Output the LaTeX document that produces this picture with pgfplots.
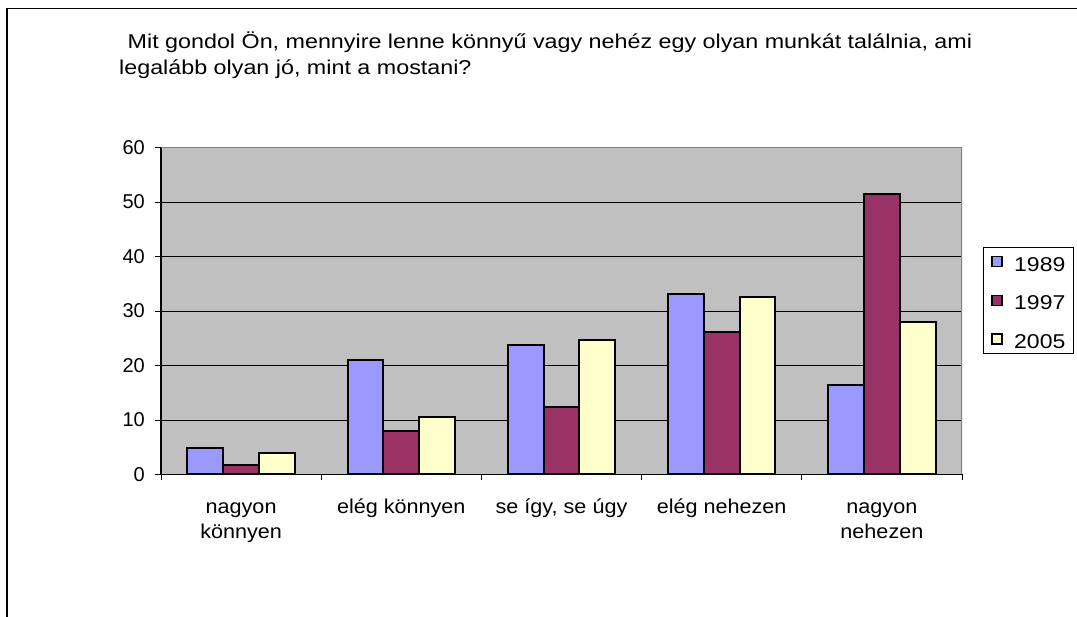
\documentclass[border=0pt]{standalone}
\usepackage{fontspec}
\setmainfont{Liberation Sans}
\usepackage{graphicx}
\usepackage{pgfplots}
\pgfplotsset{compat=1.18}
\definecolor{c1989}{HTML}{9999FF}
\definecolor{c1997}{HTML}{993366}
\definecolor{c2005}{HTML}{FFFFCC}
\definecolor{plotbg}{HTML}{C0C0C0}
\newcommand{\xs}[1]{\scalebox{1.08}[1]{#1}}
\newcommand{\ls}[1]{\scalebox{1.15}[1]{#1}\hspace{6pt}}
\begin{document}
\begin{tikzpicture}
\useasboundingbox (0pt,0pt) rectangle (1077pt,617pt);
\draw[line width=1.5pt] (7pt,0pt) -- (7pt,608.5pt) -- (1077pt,608.5pt);
\node[anchor=base west, inner sep=0pt, font=\fontsize{20}{25}\selectfont] at (127.5pt,568pt) {\scalebox{1.165}[1]{Mit gondol Ön, mennyire lenne könnyű vagy nehéz egy olyan munkát találnia, ami}};
\node[anchor=base west, inner sep=0pt, font=\fontsize{20}{25}\selectfont] at (119pt,542.5pt) {\scalebox{1.165}[1]{legalább olyan jó, mint a mostani?}};
\begin{axis}[
  at={(161pt,142.5pt)}, anchor=south west,
  scale only axis, width=801pt, height=327pt,
  xmin=-0.5, xmax=4.5, ymin=0, ymax=60,
  ybar=0pt, bar width=35.8pt,
  axis background/.style={fill=plotbg},
  axis x line*=bottom, axis y line*=left,
  axis line style={line width=1.3pt, black},
  ytick={0,10,...,60},
  ymajorgrids, major grid style={black, line width=0.9pt},
  tick align=outside, major tick length=6pt,
  tick style={black, line width=0.9pt},
  xtick={-0.5,0.5,...,4.5}, xticklabels={},
  extra x ticks={0,1,2,3,4},
  extra x tick labels={{\xs{\strut nagyon}\\\xs{könnyen}},{\xs{\strut elég könnyen}},{\xs{\strut se így, se úgy}},{\xs{\strut elég nehezen}},{\xs{\strut nagyon}\\\xs{nehezen}}},
  extra x tick style={tick style={draw=none}, grid=none},
  xticklabel style={font=\fontsize{20}{25}\selectfont, align=center, anchor=north, inner sep=0pt, yshift=-15pt},
  yticklabel style={font=\fontsize{20}{25}\selectfont, anchor=east, inner sep=0pt, xshift=-10pt},
  /pgf/number format/assume math mode=true,
  legend style={at={(1.0262,0.695)}, anchor=north west, draw=black, line width=0.9pt,
     inner xsep=8pt, inner ysep=4.5pt, row sep=19.7pt, font=\fontsize{20}{25}\selectfont,
     nodes={inner sep=0pt, text height=19pt, text depth=0pt}},
  legend cell align=left,
  legend image code/.code={\draw[#1, line width=1.5pt] (0pt,-5pt) rectangle (10pt,5pt); \path (21pt,0pt);},
  every axis plot/.append style={draw=black, line width=2pt},
]
\addplot[fill=c1989, draw=black, line width=2pt] coordinates {(0,4.9) (1,21.0) (2,23.8) (3,33.2) (4,16.5)};
\addplot[fill=c1997, draw=black, line width=2pt] coordinates {(0,1.7) (1,8.0) (2,12.4) (3,26.1) (4,51.4)};
\addplot[fill=c2005, draw=black, line width=2pt] coordinates {(0,3.9) (1,10.5) (2,24.7) (3,32.5) (4,28.0)};
\legend{\ls{1989},\ls{1997},\ls{2005}}
\draw[gray, line width=1.3pt] (rel axis cs:0,1) -- (rel axis cs:1,1) -- (rel axis cs:1,0);
\end{axis}
\end{tikzpicture}
\end{document}
